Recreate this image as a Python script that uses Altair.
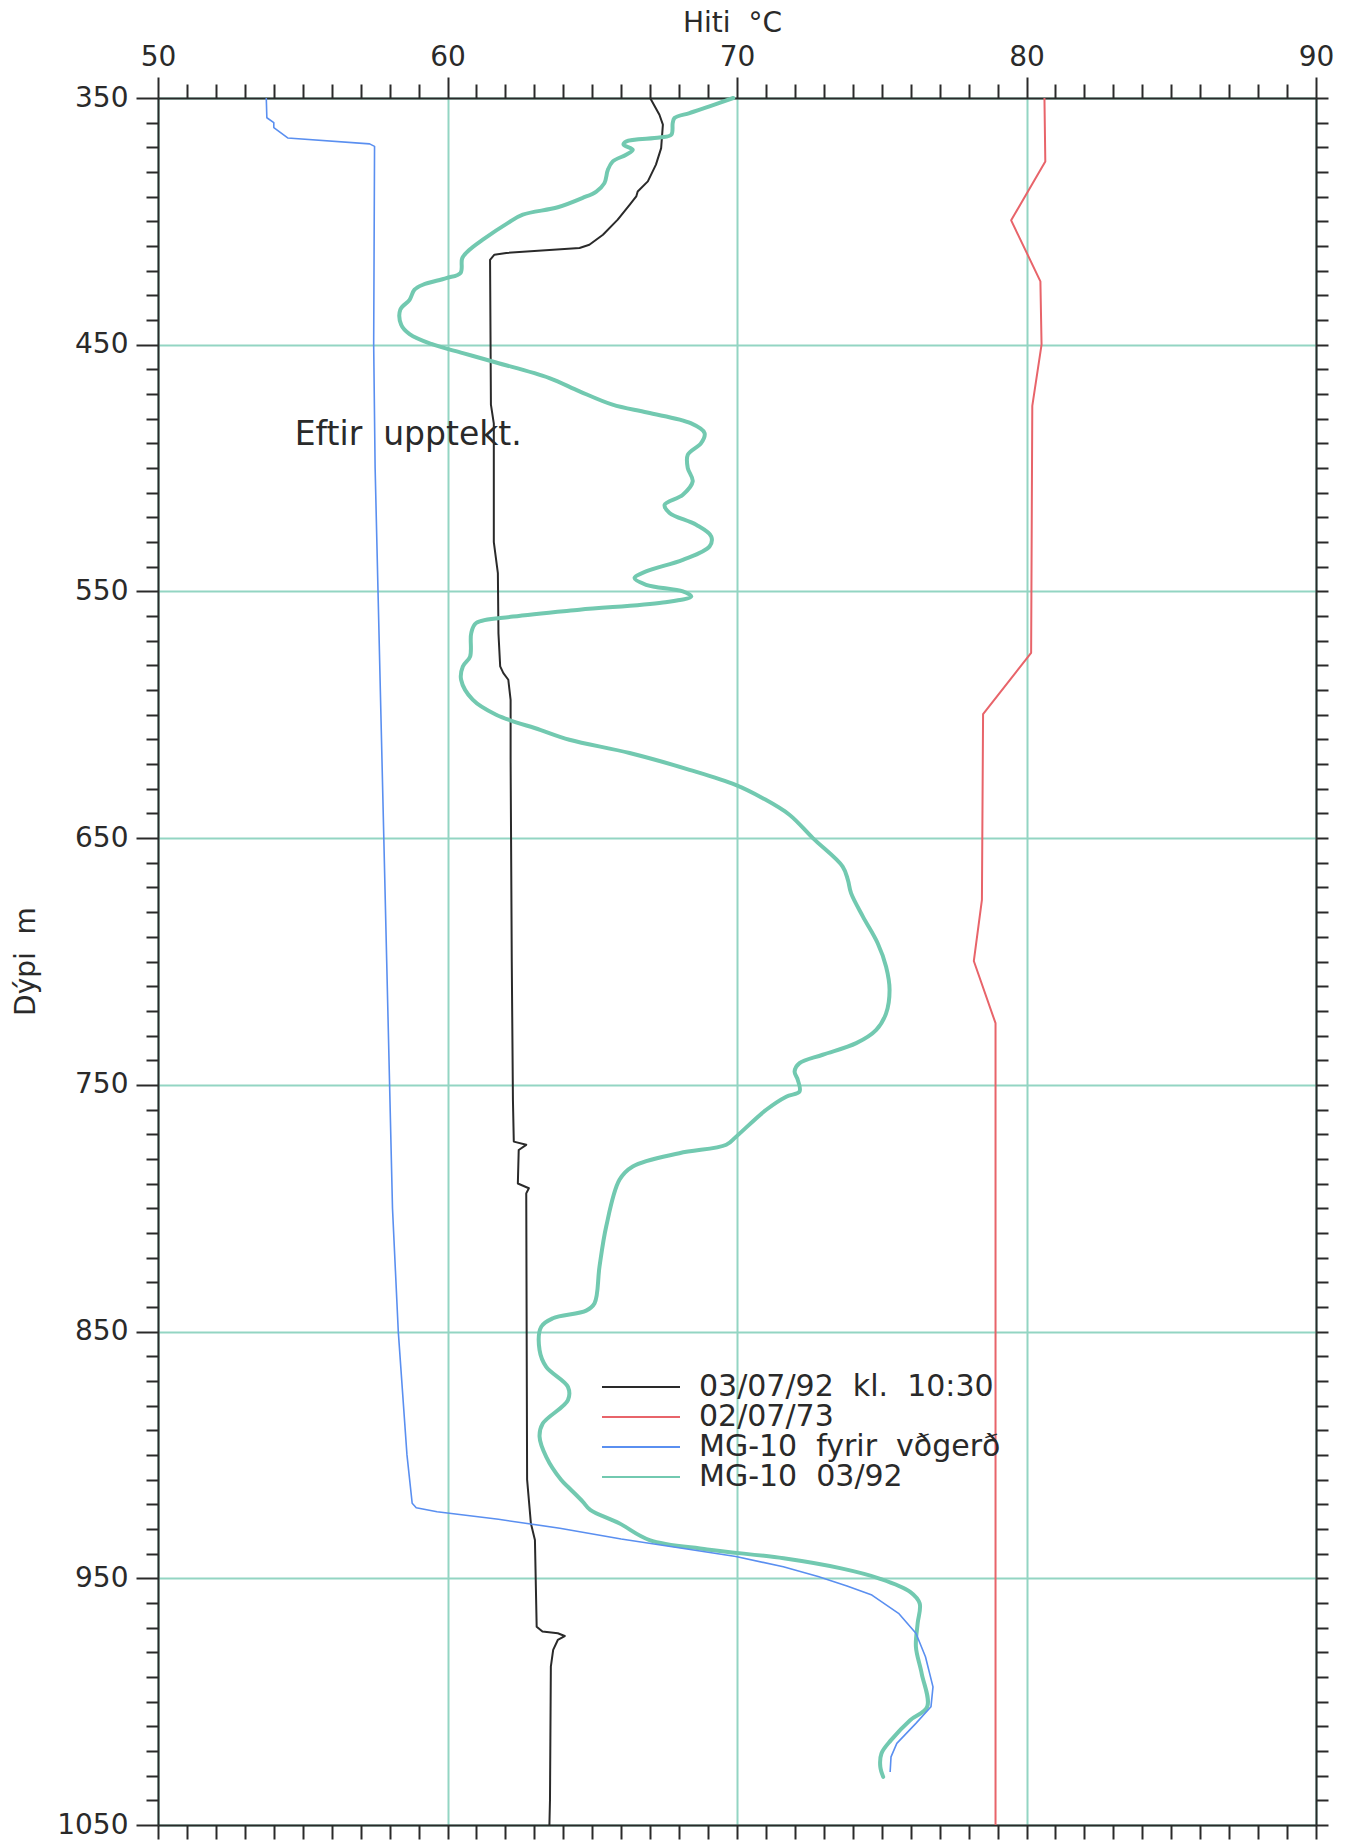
import altair as alt
import pandas as pd

# ---------------- data ----------------
series_names = ["03/07/92\u00a0\u00a0kl.\u00a0\u00a010:30", "02/07/73",
                "MG-10\u00a0\u00a0fyrir\u00a0\u00a0vðgerð", "MG-10\u00a0\u00a003/92"]
series_colors = ["#2a2a2a", "#e8646a", "#5a8ff0", "#72c9b0"]

black_depth = [350, 356.8, 360.8, 370.3, 377, 383.8, 387.9, 389.9, 393.3, 399.3, 405.4, 409.5,
               410.8, 412.8, 413.5, 415.6, 474.3, 482, 530, 542.6, 567, 580.4, 583.1, 585.8,
               594, 618, 700, 756, 773, 774.3, 776.4, 790, 791.9, 794, 910, 927.7, 934.5,
               969.6, 971.6, 972.3, 973.4, 975, 979, 985.8, 1040, 1050]
black_temp = [67.0, 67.32, 67.44, 67.38, 67.2, 66.92, 66.57, 66.52, 66.29, 65.88, 65.37, 64.9,
              64.56, 62.03, 61.62, 61.47, 61.5, 61.6, 61.6, 61.74, 61.76, 61.82, 61.93, 62.1,
              62.18, 62.18, 62.22, 62.26, 62.29, 62.72, 62.46, 62.43, 62.81, 62.72, 62.75, 62.88,
              63.02, 63.08, 63.28, 63.81, 64.05, 63.81, 63.65, 63.57, 63.54, 63.52]

red_depth = [350, 375.7, 399.6, 424.3, 450, 474.8, 574.9, 599.7, 675, 699.8, 725, 1050]
red_temp = [80.62, 80.65, 79.47, 80.48, 80.52, 80.2, 80.16, 78.5, 78.46, 78.18, 78.93, 78.93]

blue_depth = [350, 358, 360, 362, 366.2, 368.6, 369.6, 450, 500, 550, 600, 650, 700, 750, 800,
              850, 900, 919.6, 921.4, 923, 926.1, 929.7, 934.1, 937.8, 941.2, 945.3, 949.3,
              953.1, 956.8, 964.2, 972.3, 981.8, 994, 1002.1, 1008.8, 1016.9, 1022.4, 1028.5]
blue_temp = [53.74, 53.76, 54.0, 54.0, 54.48, 57.31, 57.48, 57.45, 57.5, 57.6, 57.7, 57.8, 57.9,
             58.0, 58.1, 58.3, 58.6, 58.78, 58.92, 59.64, 61.76, 63.88, 66.0, 68.1, 69.96, 71.6,
             72.8, 73.8, 74.66, 75.58, 76.18, 76.51, 76.77, 76.7, 76.18, 75.52, 75.32, 75.29]

green_depth = [350, 353.4, 356.1, 358.1, 360.1, 364.9, 366, 367.6, 368.9, 371, 373, 375.7, 379.1,
               384.5, 387.9, 390.5, 394.3, 397.3, 400.7, 407.4, 411.5, 414.9, 420.9, 423, 425.7,
               427.7, 431.8, 435.8, 441.9, 445.7, 449.7, 453.4, 457.2, 463.5, 468.9, 474.3,
               477.5, 481.8, 485.8, 489.9, 494.6, 500, 505.4, 510.8, 514.9, 518.2, 523, 527.7,
               531.8, 537.2, 541.9, 544.6, 547.3, 550, 552, 554.5, 557.4, 560.2, 562.8, 566.9,
               576.4, 580.4, 585.8, 593.9, 600, 606.1, 610.1, 615.5, 622.3, 628.4, 633.8, 640.5,
               650, 661.5, 666.9, 672.3, 681.8, 692.6, 702.1, 711.5, 721, 727.7, 733.1, 737.8,
               741.2, 744.6, 748, 752.7, 754.8, 760.1, 771, 774.3, 777.7, 783.1, 788.5, 807.5,
               823.7, 838.5, 841.5, 844.6, 848, 857.5, 864.3, 872.4, 877.8, 887.3, 892.6, 900.8,
               910.2, 913.5, 918.9, 922.3, 927.7, 934.5, 938.3, 941.9, 946, 950.1, 955.5, 960.2,
               968.3, 977.8, 988.6, 1002.1, 1007.5, 1015.6, 1021, 1026.4, 1030.5]
green_temp = [69.87, 69.05, 68.36, 67.84, 67.78, 67.73, 67.32, 66.17, 66.08, 66.4, 66.17, 65.71,
              65.54, 65.42, 65.14, 64.67, 63.81, 62.6, 62.08, 61.22, 60.76, 60.51, 60.45, 59.96,
              59.15, 58.86, 58.69, 58.37, 58.4, 58.69, 59.44, 60.53, 61.68, 63.52, 64.56, 65.7,
              66.9, 68.4, 68.88, 68.76, 68.3, 68.3, 68.47, 68.13, 67.5, 67.67, 68.59, 69.11,
              69.05, 68.13, 66.86, 66.46, 66.86, 68.13, 68.42, 67.44, 64.56, 62.26, 60.99, 60.82,
              60.78, 60.53, 60.47, 60.87, 61.68, 63.2, 64.21, 66.29, 68.36, 69.95, 70.89, 71.81,
              72.62, 73.65, 73.83, 73.94, 74.35, 74.86, 75.15, 75.27, 75.15, 74.81, 74.12, 72.96,
              72.16, 71.99, 72.1, 72.16, 71.7, 71.01, 69.97, 69.63, 68.01, 66.4, 65.94, 65.48,
              65.25, 65.08, 64.79, 63.64, 63.24, 63.18, 63.41, 64.16, 64.16, 63.29, 63.18, 63.41,
              63.93, 64.21, 64.67, 64.93, 65.93, 66.98, 68.97, 71.61, 73.6, 74.92, 75.98, 76.31,
              76.24, 76.18, 76.38, 76.57, 75.98, 75.32, 74.99, 74.95, 75.05]

x_ticks = list(range(50, 91))
y_ticks = list(range(350, 1051, 10))

annot_text = ["Eftir\u00a0\u00a0upptekt."]
annot_temp = [54.72]
annot_depth = [490.8]

# ---------------- build tables ----------------
def table(name, depths, temps):
    return pd.DataFrame({"series": name, "depth": depths, "temp": temps,
                         "i": list(range(len(depths)))})

df_black = table(series_names[0], black_depth, black_temp)
df_red = table(series_names[1], red_depth, red_temp)
df_blue = table(series_names[2], blue_depth, blue_temp)
df_green = table(series_names[3], green_depth, green_temp)
df_annot = pd.DataFrame({"text": annot_text, "temp": annot_temp, "depth": annot_depth})

FONT = "DejaVu Sans"
INK = "#2a2a2a"
TEAL = "#93d5c3"

x_scale = alt.Scale(domain=[50, 90], nice=False, zero=False)
y_scale = alt.Scale(domain=[350, 1050], reverse=True, nice=False, zero=False)
color_scale = alt.Scale(domain=series_names, range=series_colors)

legend = alt.Legend(title=None, orient="none", legendX=442, legendY=1274,
                    symbolType="M-1,0H5", symbolSize=676, symbolStrokeWidth=2,
                    labelFont=FONT, labelFontSize=30, labelColor=INK, labelOffset=69,
                    labelLimit=0, rowPadding=-1, padding=0, symbolOffset=0)
color = alt.Color("series:N", scale=color_scale, legend=legend)

top_axis = alt.Axis(orient="top", values=x_ticks,
                    labelExpr="datum.value % 10 === 0 ? datum.label : ''",
                    tickSize={"condition": {"test": "datum.value % 10 === 0", "value": 21}, "value": 14},
                    labelPadding=6, labelOverlap=False, labelFlush=False, grid=False,
                    title="Hiti\u00a0\u00a0°C", titleX=574, titleY=-75, titleBaseline="middle",
                    titleAlign="center")
left_axis = alt.Axis(orient="left", values=y_ticks, format="d",
                     labelExpr="datum.value % 100 === 50 ? datum.label : ''",
                     tickSize={"condition": {"test": "datum.value % 100 === 50", "value": 22}, "value": 12},
                     labelPadding=8, labelOverlap=False, labelFlush=False, labelBaseline="middle",
                     grid=False, title="Dýpi\u00a0\u00a0m", titleAngle=270, titleX=-132,
                     titleY=863, titleBaseline="middle", titleAlign="center")
bottom_axis = alt.Axis(orient="bottom", values=x_ticks, labels=False, tickSize=14, title=None,
                       grid=True,
                       gridOpacity={"condition": {"test": "datum.value % 10 === 0", "value": 1}, "value": 0})
right_axis = alt.Axis(orient="right", values=y_ticks, labels=False, tickSize=12, title=None,
                      grid=True,
                      gridOpacity={"condition": {"test": "datum.value % 100 === 50", "value": 1}, "value": 0})

green = alt.Chart(df_green).mark_line(strokeWidth=4, interpolate="catmull-rom",
                                      strokeCap="round", strokeJoin="round").encode(
    x=alt.X("temp:Q", scale=x_scale, axis=None),
    y=alt.Y("depth:Q", scale=y_scale, axis=None),
    color=color, order="i:Q")

blue = alt.Chart(df_blue).mark_line(strokeWidth=1.6, strokeJoin="round").encode(
    x=alt.X("temp:Q", scale=x_scale, axis=None),
    y=alt.Y("depth:Q", scale=y_scale, axis=None),
    color=color, order="i:Q")

red = alt.Chart(df_red).mark_line(strokeWidth=2, strokeJoin="round").encode(
    x=alt.X("temp:Q", scale=x_scale, axis=bottom_axis),
    y=alt.Y("depth:Q", scale=y_scale, axis=right_axis),
    color=color, order="i:Q")

black = alt.Chart(df_black).mark_line(strokeWidth=2, strokeJoin="round").encode(
    x=alt.X("temp:Q", scale=x_scale, axis=top_axis),
    y=alt.Y("depth:Q", scale=y_scale, axis=left_axis),
    color=color, order="i:Q")

annot = alt.Chart(df_annot).mark_text(align="left", baseline="alphabetic", font=FONT,
                                      fontSize=33, color=INK).encode(
    x=alt.X("temp:Q", scale=x_scale, axis=None),
    y=alt.Y("depth:Q", scale=y_scale, axis=None),
    text="text:N")

chart = alt.layer(red, black, green, blue, annot).resolve_axis(
    x="independent", y="independent"
).properties(
    width=1158, height=1727,
    padding={"left": 158, "top": 98, "right": 29, "bottom": 15},
    autosize=alt.AutoSizeParams(type="none"),
    background="white",
).configure_axis(
    labelFont=FONT, labelFontSize=28, labelColor=INK,
    titleFont=FONT, titleFontSize=28, titleFontWeight="normal", titleColor=INK,
    domainColor=INK, domainWidth=2, tickColor=INK, tickWidth=2,
    gridColor=TEAL, gridWidth=2,
).configure_view(stroke=None)

chart.save("out.html", embed_options={"renderer": "svg", "actions": False})
